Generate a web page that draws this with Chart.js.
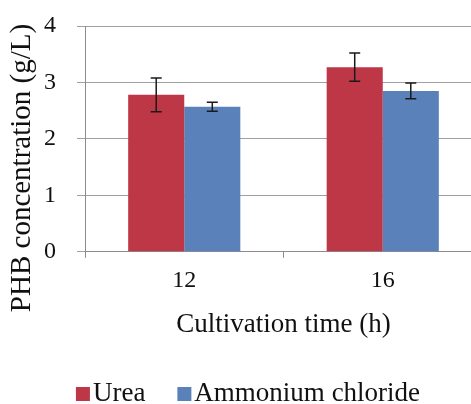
<!DOCTYPE html>
<html>
<head>
<meta charset="utf-8">
<script src="https://cdn.jsdelivr.net/npm/chart.js@4"></script>
<style>
  html, body { margin: 0; padding: 0; background: #fff; }
  #wrap { width: 471px; height: 404px; overflow: hidden; position: relative; }
  #box { width: 500px; height: 404px; position: absolute; left: 0; top: 0; }
</style>
</head>
<body>
<div id="wrap"><div id="box"><canvas id="c"></canvas></div></div>
<script>
// Cultivation times (h)
const categories = ['12', '16'];
// PHB concentration (g/L) by nitrogen source
const ureaValues = [2.78, 3.27];
const ammoniumValues = [2.57, 2.85];
// Error bar half-widths (g/L)
const ureaErrors = [0.30, 0.25];
const ammoniumErrors = [0.08, 0.14];
// Y-axis tick values
const yTicks = [0, 1, 2, 3, 4];

const serif = '"Liberation Serif", "Times New Roman", serif';
const ink = '#111';

// Symmetric error bars on each bar, positioned with the chart's own scales
const errorBars = {
  id: 'errorBars',
  afterDatasetsDraw(chart) {
    const ctx = chart.ctx;
    const yScale = chart.scales.y;
    chart.data.datasets.forEach((ds, di) => {
      const meta = chart.getDatasetMeta(di);
      meta.data.forEach((bar, i) => {
        const v = ds.data[i];
        const e = ds.errors[i];
        const yTop = yScale.getPixelForValue(v + e);
        const yBot = yScale.getPixelForValue(v - e);
        const x = bar.x;
        const cap = 5.5;
        ctx.save();
        ctx.strokeStyle = '#1a1a1a';
        ctx.lineWidth = 1.5;
        ctx.beginPath();
        ctx.moveTo(x, yTop); ctx.lineTo(x, yBot);
        ctx.moveTo(x - cap, yTop); ctx.lineTo(x + cap, yTop);
        ctx.moveTo(x - cap, yBot); ctx.lineTo(x + cap, yBot);
        ctx.stroke();
        ctx.restore();
      });
    });
  }
};

// Vertical y-axis title, sitting a little lower than the plot's centre
const yTitle = {
  id: 'yTitle',
  afterDraw(chart, args, opts) {
    const ctx = chart.ctx;
    ctx.save();
    ctx.translate(opts.x, opts.y);
    ctx.rotate(-Math.PI / 2);
    ctx.font = `${opts.size}px ${serif}`;
    ctx.fillStyle = ink;
    ctx.textAlign = 'center';
    ctx.textBaseline = 'middle';
    ctx.fillText(opts.text, 0, 0);
    ctx.restore();
  }
};

// Compact legend: square swatch with its label right beside it
const compactLegend = {
  id: 'compactLegend',
  afterDraw(chart, args, opts) {
    const ctx = chart.ctx;
    ctx.save();
    ctx.font = `${opts.size}px ${serif}`;
    ctx.textBaseline = 'alphabetic';
    const items = chart.data.datasets.map(ds => ({
      label: ds.label, color: ds.backgroundColor,
      w: ctx.measureText(ds.label).width
    }));
    const total = items.reduce((s, it) => s + opts.box + opts.gap + it.w, 0) + opts.spacing * (items.length - 1);
    let x = opts.centerX - total / 2;
    items.forEach(it => {
      ctx.fillStyle = it.color;
      ctx.fillRect(x, opts.baseline - opts.box, opts.box, opts.box);
      x += opts.box + opts.gap;
      ctx.fillStyle = ink;
      ctx.fillText(it.label, x, opts.baseline);
      x += it.w + opts.spacing;
    });
    ctx.restore();
  }
};

new Chart(document.getElementById('c'), {
  type: 'bar',
  data: {
    labels: categories,
    datasets: [
      { label: 'Urea', data: ureaValues, errors: ureaErrors, backgroundColor: '#bd3747' },
      { label: 'Ammonium chloride', data: ammoniumValues, errors: ammoniumErrors, backgroundColor: '#5a81b9' }
    ]
  },
  options: {
    responsive: true,
    maintainAspectRatio: false,
    animation: false,
    events: [],
    layout: { padding: { left: 23, right: 18, top: 26, bottom: 62.5 } },
    datasets: { bar: { categoryPercentage: 0.565, barPercentage: 1.0 } },
    plugins: {
      legend: { display: false },
      tooltip: { enabled: false },
      yTitle: { text: 'PHB concentration (g/L)', x: 22.5, y: 168, size: 29 },
      compactLegend: { centerX: 248, baseline: 401, size: 27, box: 14, gap: 3, spacing: 32 }
    },
    scales: {
      x: {
        grid: { display: true, drawOnChartArea: false, offset: true, tickLength: 6, color: '#8c8c8c' },
        border: { color: '#8c8c8c' },
        ticks: { color: ink, padding: 9, font: { family: serif, size: 24 } },
        title: { display: true, text: 'Cultivation time (h)', color: ink, padding: { top: 4.5, bottom: 0 }, font: { family: serif, size: 27 } }
      },
      y: {
        min: 0, max: 4,
        afterBuildTicks(scale) { scale.ticks = yTicks.map(v => ({ value: v })); },
        afterFit(scale) { scale.paddingTop = 0; scale.paddingBottom = 0; },
        grid: { color: '#a0a0a0', tickLength: 8 },
        border: { color: '#8c8c8c' },
        ticks: { color: ink, padding: 21, font: { family: serif, size: 24 } }
      }
    }
  },
  plugins: [errorBars, yTitle, compactLegend]
});
</script>
</body>
</html>
